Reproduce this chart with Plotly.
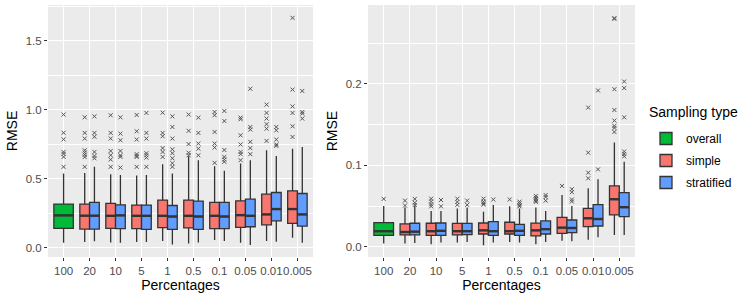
import plotly.graph_objects as go

# ---------------- data ----------------
categories = ["100", "20", "10", "5", "1", "0.5", "0.1", "0.05", "0.01", "0.005"]
sub_categories = categories[1:]

# Left panel (RMSE, large scale)
L_overall = dict(q1=0.140, med=0.234, q3=0.316, lo=0.036, hi=0.538,
                 out=[0.965, 0.833, 0.785, 0.694, 0.680, 0.658, 0.586])
L_simple_q1 = [0.135, 0.140, 0.138, 0.145, 0.143, 0.138, 0.147, 0.166, 0.176]
L_simple_med = [0.232, 0.231, 0.231, 0.231, 0.231, 0.231, 0.236, 0.241, 0.280]
L_simple_q3 = [0.316, 0.321, 0.309, 0.345, 0.345, 0.328, 0.340, 0.388, 0.412]
L_simple_lo = [0.041, 0.038, 0.041, 0.048, 0.031, 0.056, 0.036, 0.048, 0.072]
L_simple_hi = [0.542, 0.533, 0.523, 0.605, 0.663, 0.591, 0.610, 0.706, 0.718]
L_simple_out = [
    [0.945, 0.832, 0.791, 0.706, 0.690, 0.674, 0.657, 0.586],
    [0.960, 0.832, 0.791, 0.701, 0.670, 0.639, 0.586],
    [0.962, 0.844, 0.784, 0.678, 0.665, 0.658, 0.586],
    [0.979, 0.832, 0.808, 0.722, 0.694, 0.658],
    [0.965, 0.847, 0.751, 0.688, 0.670],
    [0.984, 0.960, 0.839, 0.755, 0.726, 0.615],
    [0.943, 0.931, 0.815, 0.748, 0.694, 0.678, 0.634],
    [1.037, 0.977, 0.936, 0.895, 0.863, 0.774],
    [1.666, 1.146, 1.024, 0.977, 0.880, 0.803],
]
L_strat_q1 = [0.135, 0.138, 0.133, 0.133, 0.133, 0.138, 0.152, 0.195, 0.157]
L_strat_med = [0.232, 0.234, 0.231, 0.226, 0.226, 0.226, 0.231, 0.280, 0.241]
L_strat_q3 = [0.328, 0.311, 0.309, 0.306, 0.338, 0.328, 0.352, 0.400, 0.393]
L_strat_lo = [0.046, 0.036, 0.041, 0.024, 0.038, 0.048, 0.019, 0.043, 0.036]
L_strat_hi = [0.586, 0.526, 0.526, 0.538, 0.634, 0.557, 0.634, 0.665, 0.730]
L_strat_out = [
    [0.952, 0.832, 0.804, 0.694, 0.665, 0.648],
    [0.945, 0.827, 0.779, 0.701, 0.670, 0.658, 0.581],
    [0.977, 0.832, 0.791, 0.685, 0.670, 0.653, 0.586],
    [0.952, 0.875, 0.791, 0.713, 0.685, 0.648, 0.612, 0.586],
    [0.943, 0.832, 0.755, 0.718, 0.670],
    [0.991, 0.918, 0.708, 0.658, 0.639, 0.622],
    [1.152, 0.875, 0.856, 0.767, 0.722, 0.678],
    [0.875, 0.851, 0.784, 0.748, 0.738],
    [1.136, 0.984, 0.972, 0.936],
]

# Right panel (RMSE, small scale)
R_overall = dict(q1=0.014, med=0.019, q3=0.0295, lo=0.004, hi=0.050, out=[0.0587])
R_simple_q1 = [0.0144, 0.0140, 0.0144, 0.0156, 0.0156, 0.0132, 0.0164, 0.0246, 0.0390]
R_simple_med = [0.0180, 0.0190, 0.0190, 0.0200, 0.0190, 0.0200, 0.0234, 0.0349, 0.0583]
R_simple_q3 = [0.0280, 0.0288, 0.0287, 0.0291, 0.0300, 0.0290, 0.0360, 0.0470, 0.0747]
R_simple_lo = [0.0040, 0.0030, 0.0050, 0.0017, 0.0057, 0.0030, 0.0074, 0.0086, 0.0144]
R_simple_hi = [0.0480, 0.0440, 0.0470, 0.0430, 0.0496, 0.0480, 0.0636, 0.0718, 0.1280]
R_simple_out = [
    [0.0566, 0.0505],
    [0.0590, 0.0555, 0.0520, 0.0496],
    [0.0590, 0.0550, 0.0514],
    [0.0590, 0.0554, 0.0533, 0.0517],
    [0.0580],
    [0.0624, 0.0600, 0.0580, 0.0566, 0.0550],
    [0.0747],
    [0.171, 0.1156, 0.091, 0.084],
    [0.281, 0.280, 0.1936, 0.168, 0.155, 0.1485, 0.146, 0.141],
]
R_strat_q1 = [0.0144, 0.0140, 0.0147, 0.0140, 0.0140, 0.0156, 0.0172, 0.0254, 0.0369]
R_strat_med = [0.0185, 0.0195, 0.0190, 0.0190, 0.0195, 0.0215, 0.0230, 0.0340, 0.0485]
R_strat_q3 = [0.0288, 0.0291, 0.0287, 0.0308, 0.0275, 0.0316, 0.0328, 0.0517, 0.0664]
R_strat_lo = [0.0045, 0.0050, 0.0057, 0.0050, 0.0050, 0.0057, 0.0066, 0.0115, 0.0144]
R_strat_hi = [0.0500, 0.0440, 0.0480, 0.0513, 0.0470, 0.0440, 0.0500, 0.0830, 0.1045]
R_strat_out = [
    [0.0587, 0.0540, 0.0513],
    [0.0574, 0.0496],
    [0.0566, 0.0514],
    [0.0580],
    [0.0554, 0.0533, 0.0510, 0.0496],
    [0.0635, 0.0610, 0.0566],
    [0.0707, 0.0670, 0.0580, 0.0555],
    [0.192, 0.095],
    [0.203, 0.195, 0.159, 0.117, 0.114, 0.111],
]

# ---------------- style ----------------
COL = {"overall": "#00BA38", "simple": "#F8766D", "stratified": "#619CFF"}
LINE = "#333333"
FONT = "Liberation Sans, Arial, sans-serif"
DODGE = 0.75

fig = go.Figure()


def add_boxes(name, pos, q1, med, q3, lo, hi, outs, width, xa, ya, showlegend):
    fig.add_trace(go.Box(
        name=name, legendgroup=name, showlegend=showlegend,
        x=pos, q1=q1, median=med, q3=q3, lowerfence=lo, upperfence=hi,
        width=width, boxpoints=False, whiskerwidth=0,
        fillcolor=COL[name], line=dict(color=LINE, width=1.3),
        xaxis=xa, yaxis=ya, hoverinfo="skip",
    ))
    # thicker median lines (ggplot fatten)
    mx, my = [], []
    for p, m in zip(pos, med):
        mx += [p - width / 2, p + width / 2, None]
        my += [m, m, None]
    fig.add_trace(go.Scatter(x=mx, y=my, mode="lines", showlegend=False,
                             line=dict(color=LINE, width=2.4),
                             xaxis=xa, yaxis=ya, hoverinfo="skip"))
    ox, oy = [], []
    for p, o in zip(pos, outs):
        ox += [p] * len(o)
        oy += o
    fig.add_trace(go.Scatter(x=ox, y=oy, mode="markers", showlegend=False,
                             marker=dict(symbol="x-thin", size=4,
                                         line=dict(color="#555555", width=1)),
                             xaxis=xa, yaxis=ya, hoverinfo="skip"))


sub_idx = list(range(1, len(categories)))
w_half = DODGE / 2
panels = [
    ("x", "y", L_overall,
     (L_simple_q1, L_simple_med, L_simple_q3, L_simple_lo, L_simple_hi, L_simple_out),
     (L_strat_q1, L_strat_med, L_strat_q3, L_strat_lo, L_strat_hi, L_strat_out), True),
    ("x2", "y2", R_overall,
     (R_simple_q1, R_simple_med, R_simple_q3, R_simple_lo, R_simple_hi, R_simple_out),
     (R_strat_q1, R_strat_med, R_strat_q3, R_strat_lo, R_strat_hi, R_strat_out), False),
]
for xa, ya, ov, si, st, leg in panels:
    add_boxes("overall", [0], [ov["q1"]], [ov["med"]], [ov["q3"]], [ov["lo"]], [ov["hi"]],
              [ov["out"]], DODGE, xa, ya, leg)
    add_boxes("simple", [i - w_half / 2 for i in sub_idx], *si, w_half, xa, ya, leg)
    add_boxes("stratified", [i + w_half / 2 for i in sub_idx], *st, w_half, xa, ya, leg)

W, H = 747, 299
mt, mb = 5, 42
PH = H - mt - mb

xcommon = dict(
    tickmode="array", tickvals=list(range(len(categories))), ticktext=categories,
    range=[-0.6, len(categories) - 0.4], showgrid=True, gridcolor="white", gridwidth=1.1,
    zeroline=False, ticks="outside", ticklen=3, tickcolor=LINE, tickwidth=1,
    tickangle=0, automargin=False,
    tickfont=dict(size=11.5, color="#4D4D4D", family=FONT),
    title=dict(text="Percentages", font=dict(size=14, color="black", family=FONT), standoff=1),
    showline=False,
)
ycommon = dict(
    showgrid=True, gridcolor="white", gridwidth=1.1, zeroline=False,
    ticks="outside", ticklen=3, tickcolor=LINE, tickwidth=1, automargin=False,
    tickfont=dict(size=11.5, color="#4D4D4D", family=FONT),
    title=dict(text="RMSE", font=dict(size=14, color="black", family=FONT), standoff=4),
    showline=False,
)

fig.update_layout(
    width=W, height=H,
    margin=dict(l=0, r=0, t=mt, b=mb, autoexpand=False),
    paper_bgcolor="white", plot_bgcolor="#EBEBEB",
    boxmode="overlay",
    font=dict(family=FONT),
    xaxis=dict(domain=[48 / W, 313 / W], anchor="y", **xcommon),
    xaxis2=dict(domain=[368 / W, 635 / W], anchor="y2", **xcommon),
    yaxis=dict(domain=[0, 1], anchor="x", range=[-0.0674, 1.759], tickvals=[0, 0.5, 1.0, 1.5],
               ticktext=["0.0", "0.5", "1.0", "1.5"],
               minor=dict(tickvals=[0.25, 0.75, 1.25, 1.75], showgrid=True, gridcolor="white",
                          gridwidth=0.55, ticks=""),
               **ycommon),
    yaxis2=dict(domain=[0, 1], anchor="x2", range=[-0.0127, 0.2971], tickvals=[0, 0.1, 0.2],
                ticktext=["0.0", "0.1", "0.2"],
                minor=dict(tickvals=[0.05, 0.15, 0.25], showgrid=True, gridcolor="white",
                           gridwidth=0.55, ticks=""),
                **ycommon),
    legend=dict(
        x=646 / W, xanchor="left", y=(H - mb - 124) / PH, yanchor="top",
        font=dict(size=12, color="black", family=FONT),
        bgcolor="rgba(0,0,0,0)", traceorder="grouped", tracegroupgap=3, itemwidth=30,
    ),
    annotations=[dict(
        text="Sampling type", xref="paper", yref="paper",
        x=647 / W, xanchor="left", y=(H - mb - 112) / PH, yanchor="middle",
        showarrow=False, font=dict(size=14, color="black", family=FONT),
    )],
)

fig.write_html("out.html", config={"displayModeBar": False},
               post_script="document.body.style.margin='0';")
